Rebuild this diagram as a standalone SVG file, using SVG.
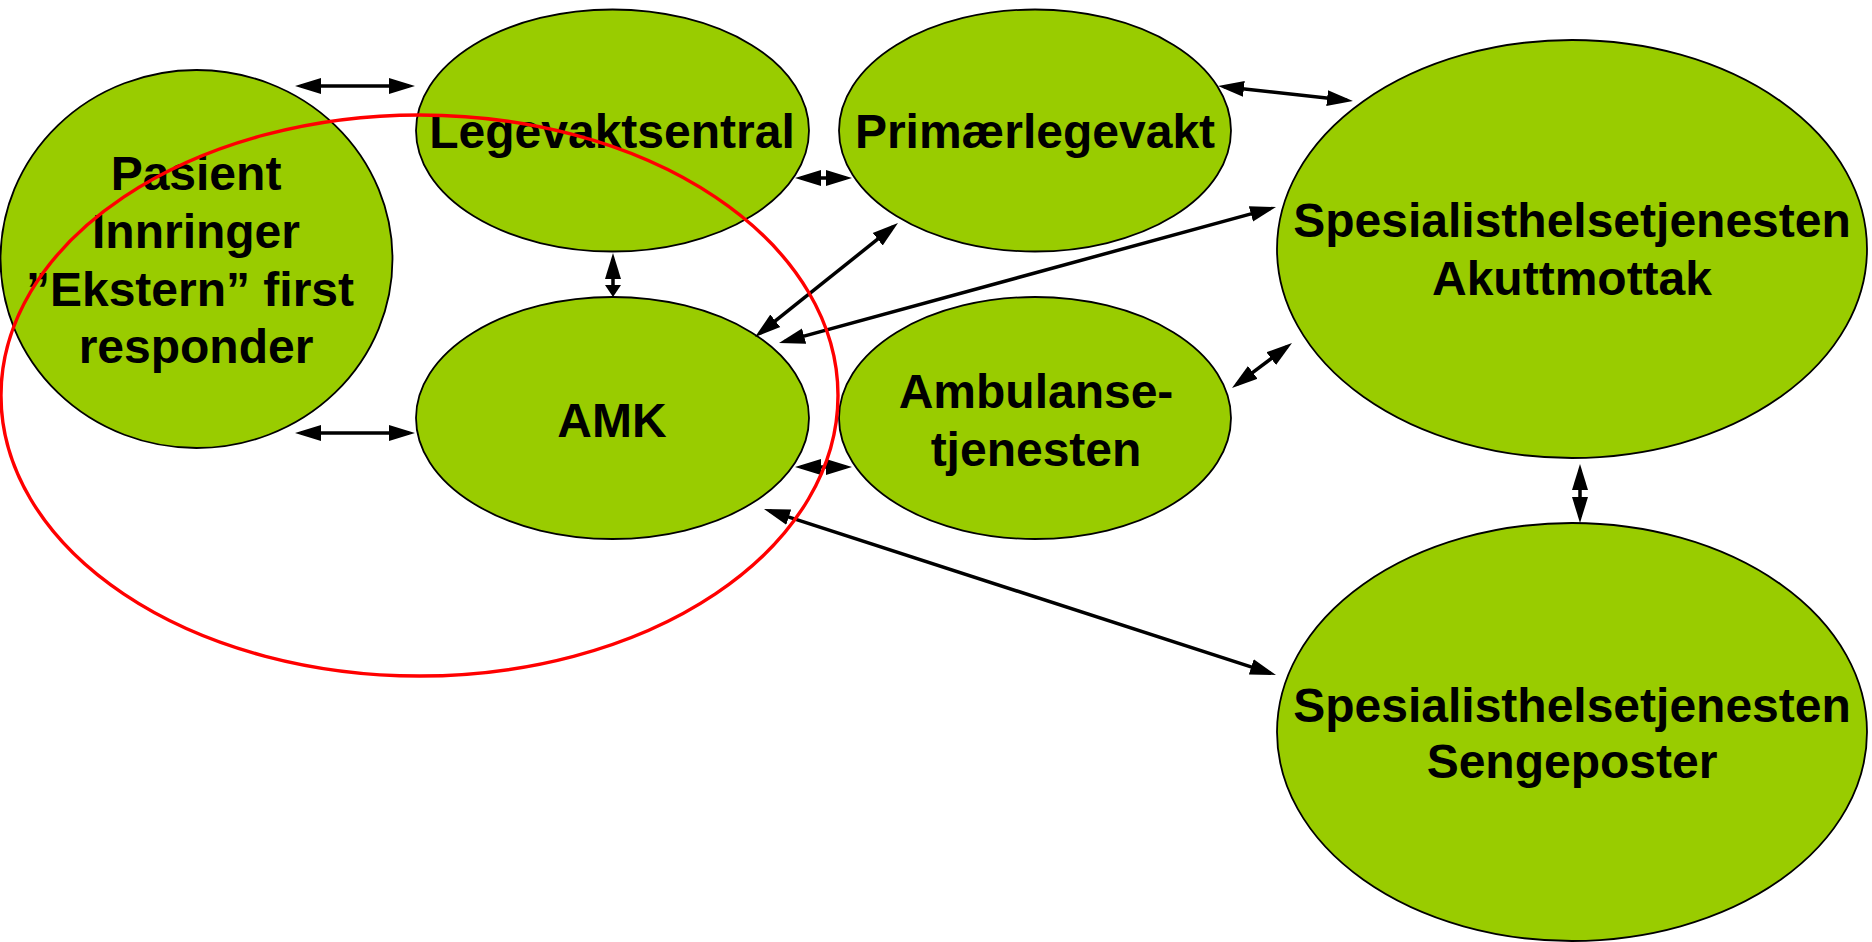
<svg xmlns="http://www.w3.org/2000/svg" width="1872" height="942" viewBox="0 0 1872 942">
<style>
.node{fill:#99CC00;stroke:#000;stroke-width:1.8}
.lbl{font-family:"Liberation Sans",Arial,sans-serif;font-weight:bold;font-size:48px;fill:#000;text-anchor:middle}
.con{stroke:#000;stroke-width:3.5;fill:none;marker-start:url(#ah);marker-end:url(#ah)}
.ring{fill:none;stroke:#FF0000;stroke-width:3.4}
</style>
<defs>
<marker id="ah" markerUnits="userSpaceOnUse" markerWidth="28" markerHeight="18" refX="20" refY="9" orient="auto-start-reverse">
<path d="M0,1 L26,9 L0,17 z" fill="#000"/>
</marker>
<marker id="ahs" markerUnits="userSpaceOnUse" markerWidth="14" markerHeight="18" refX="6" refY="9" orient="auto">
<path d="M0,1 L12,9 L0,17 z" fill="#000"/>
</marker>
</defs>
<rect width="1872" height="942" fill="#fff"/>
<g id="pasient">
<ellipse class="node" cx="196.5" cy="259" rx="196" ry="189"/>
<text class="lbl" x="196" y="190">Pasient</text>
<text class="lbl" x="196" y="248">Innringer</text>
<text class="lbl" x="190" y="306">”Ekstern” first</text>
<text class="lbl" x="196" y="363">responder</text>
</g>
<g id="legevaktsentral">
<ellipse class="node" cx="612.5" cy="130.5" rx="196.5" ry="121"/>
<text class="lbl" x="612" y="148">Legevaktsentral</text>
</g>
<g id="primaerlegevakt">
<ellipse class="node" cx="1035" cy="130.5" rx="196" ry="121"/>
<text class="lbl" x="1035" y="148">Primærlegevakt</text>
</g>
<g id="amk">
<ellipse class="node" cx="612.5" cy="418" rx="196.5" ry="121"/>
<text class="lbl" x="612" y="437">AMK</text>
</g>
<g id="ambulanse">
<ellipse class="node" cx="1035" cy="418" rx="196" ry="121"/>
<text class="lbl" x="1036" y="408">Ambulanse-</text>
<text class="lbl" x="1036" y="466">tjenesten</text>
</g>
<g id="akuttmottak">
<ellipse class="node" cx="1572" cy="249" rx="295" ry="209"/>
<text class="lbl" x="1572" y="237">Spesialisthelsetjenesten</text>
<text class="lbl" x="1572" y="295">Akuttmottak</text>
</g>
<g id="sengeposter">
<ellipse class="node" cx="1572" cy="732" rx="295" ry="209"/>
<text class="lbl" x="1572" y="722">Spesialisthelsetjenesten</text>
<text class="lbl" x="1572" y="778">Sengeposter</text>
</g>
<g id="connectors">
<line class="con" x1="301" y1="86" x2="409" y2="86"/>
<line class="con" x1="301" y1="433" x2="409" y2="433"/>
<line class="con" x1="801" y1="178" x2="846" y2="178"/>
<line class="con" x1="801" y1="467" x2="846" y2="467"/>
<line class="con" x1="613" y1="259" x2="613" y2="291" style="marker-end:url(#ahs)"/>
<line class="con" x1="1580" y1="470" x2="1580" y2="517"/>
<line class="con" x1="759.7" y1="333.3" x2="893.3" y2="226.7"/>
<line class="con" x1="784.8" y1="341.4" x2="1270.2" y2="208.6"/>
<line class="con" x1="1224" y1="86.7" x2="1347" y2="100.3"/>
<line class="con" x1="1236.8" y1="384.4" x2="1287.2" y2="346.6"/>
<line class="con" x1="769.7" y1="510.9" x2="1270.3" y2="673.1"/>
</g>
<g id="highlight">
<ellipse class="ring" cx="419.5" cy="395.5" rx="418.5" ry="280.5"/>
</g>
</svg>
